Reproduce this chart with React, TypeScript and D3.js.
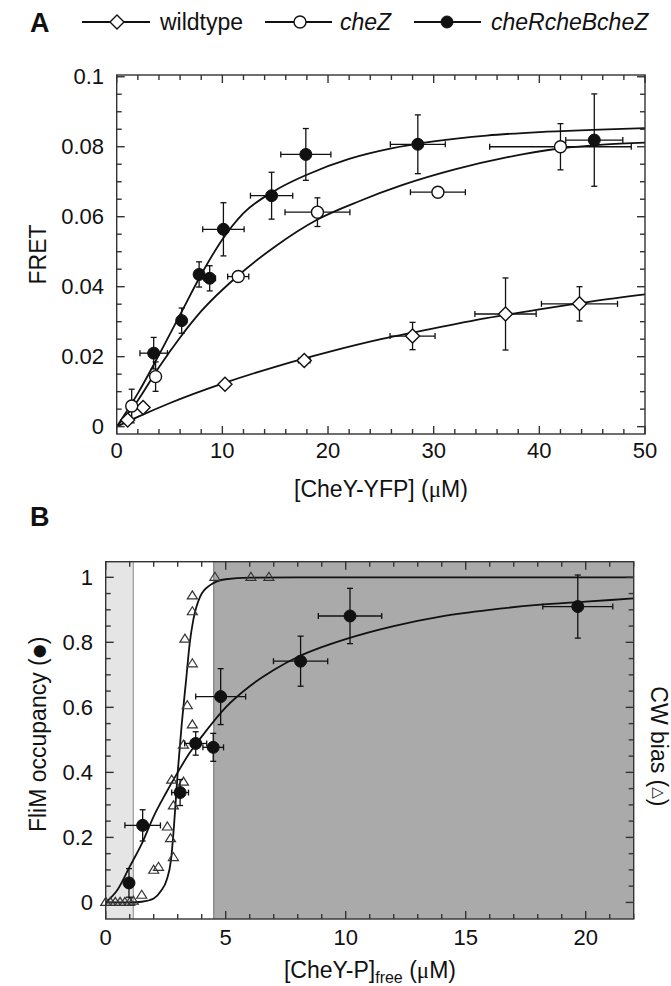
import React from 'react';
import * as d3 from 'd3';

// ---------- Panel A data ----------
const wtX = [1.04, 2.5, 10.25, 17.75, 28.0, 36.8, 43.8];
const wtY = [0.0019, 0.0055, 0.0121, 0.0189, 0.0259, 0.0322, 0.0351];
const wtXErr = [0, 0, 0.4, 0.55, 2.13, 2.9, 3.6];
const wtYErr = [0, 0, 0.0008, 0.001, 0.0039, 0.0103, 0.0049];

const czX = [1.42, 3.68, 11.5, 19.0, 30.4, 42.0];
const czY = [0.0059, 0.0143, 0.0429, 0.0613, 0.067, 0.080];
const czXErr = [0.2, 0.2, 1.0, 3.07, 2.6, 6.7];
const czYErr = [0.0048, 0.0042, 0.0012, 0.0041, 0.0008, 0.0066];

const rbzX = [3.5, 6.15, 7.8, 8.8, 10.1, 14.66, 17.9, 28.5, 45.2];
const rbzY = [0.021, 0.0303, 0.0435, 0.0424, 0.0564, 0.066, 0.0778, 0.0807, 0.0819];
const rbzXErr = [1.3, 0.3, 0.4, 0.55, 1.96, 2.0, 2.37, 2.6, 2.7];
const rbzYErr = [0.0045, 0.0036, 0.0036, 0.0036, 0.0076, 0.0067, 0.0074, 0.0084, 0.0132];

// fitted curves
const wtCurveX = [0, 2, 5, 10, 15, 20, 25, 30, 35, 40, 45, 50];
const wtCurveY = [0, 0.0028, 0.0067, 0.0123, 0.0171, 0.0213, 0.025, 0.0281, 0.031, 0.0335, 0.0358, 0.0378];
const czCurveX = [0, 2, 4, 6, 8, 11.5, 15, 19, 23, 27, 32, 37, 42, 46, 50];
const czCurveY = [0, 0.0075, 0.017, 0.0255, 0.033, 0.0432, 0.0515, 0.0592, 0.0645, 0.069, 0.0735, 0.077, 0.0795, 0.0806, 0.0812];
const rbzCurveX = [0, 2, 4, 6, 8, 10, 12, 15, 18, 22, 26, 30, 35, 40, 45, 50];
const rbzCurveY = [0, 0.0095, 0.0205, 0.032, 0.0435, 0.0535, 0.061, 0.0675, 0.072, 0.0765, 0.0795, 0.0815, 0.0832, 0.0842, 0.0848, 0.0853];

const aXTicks = [0, 10, 20, 30, 40, 50];
const aYTicks = [0, 0.02, 0.04, 0.06, 0.08, 0.1];
const aYTickLabels = ['0', '0.02', '0.04', '0.06', '0.08', '0.1'];

// ---------- Panel B data ----------
const cwX = [0, 0.2, 0.4, 0.6, 0.8, 1.0, 1.15, 1.5, 2.0, 2.2, 2.57, 2.7, 2.82, 2.82, 2.75, 3.24, 3.24, 3.61, 3.4, 3.61, 3.3, 3.61, 3.61, 4.55, 6.05, 6.8];
const cwY = [0, 0, 0, 0, 0, 0, 0.004, 0.022, 0.099, 0.108, 0.232, 0.196, 0.138, 0.297, 0.376, 0.37, 0.484, 0.546, 0.605, 0.734, 0.81, 0.894, 0.943, 1.0, 1.0, 1.0];

const flX = [0.97, 1.54, 3.1, 3.75, 4.48, 4.79, 8.12, 10.18, 19.67];
const flY = [0.06, 0.237, 0.338, 0.489, 0.477, 0.633, 0.742, 0.881, 0.91];
const flXErr = [0.1, 0.74, 0.35, 0.46, 0.43, 1.04, 1.13, 1.32, 1.46];
const flYErr = [0.044, 0.048, 0.04, 0.036, 0.043, 0.086, 0.077, 0.085, 0.097];

const cwCurveX = [0, 1, 1.5, 2.0, 2.3, 2.54, 2.72, 2.85, 3.0, 3.17, 3.35, 3.5, 3.65, 3.93, 4.35, 5.0, 6, 8, 22];
const cwCurveY = [0, 0.0, 0.002, 0.012, 0.035, 0.069, 0.13, 0.24, 0.4, 0.55, 0.684, 0.797, 0.869, 0.94, 0.976, 0.994, 0.999, 1, 1];
const flCurveX = [0, 0.5, 1, 1.5, 2, 2.5, 3, 3.5, 4, 5, 6, 7, 8, 9, 10, 12, 14, 16, 18, 20, 22];
const flCurveY = [0, 0.04, 0.11, 0.18, 0.265, 0.335, 0.4, 0.46, 0.51, 0.6, 0.665, 0.715, 0.755, 0.785, 0.81, 0.85, 0.88, 0.9, 0.915, 0.925, 0.935];

const bXTicks = [0, 5, 10, 15, 20];
const bYTicks = [0, 0.2, 0.4, 0.6, 0.8, 1];
const bYTickLabels = ['0', '0.2', '0.4', '0.6', '0.8', '1'];
const bandLight = [0, 1.15];
const bandDark = [4.5, 22];

const FONT = '"Liberation Sans", Arial, Helvetica, sans-serif';
const SYM = '"DejaVu Sans", sans-serif';
const INK = '#111';
const FRAME = '#333';

function zip(xs: number[], ys: number[]) {
  return xs.map((x, i) => [x, ys[i]] as [number, number]);
}

function ErrorBars({ xs, ys, xe, ye, sx, sy }: any) {
  const cap = 3;
  return (
    <g stroke={INK} strokeWidth={1.3} fill="none">
      {xs.map((x: number, i: number) => {
        const cx = sx(x), cy = sy(ys[i]);
        const parts: any[] = [];
        if (xe[i] > 0) {
          const x0 = sx(x - xe[i]), x1 = sx(x + xe[i]);
          parts.push(<line key="h" x1={x0} x2={x1} y1={cy} y2={cy} />);
          parts.push(<line key="hc0" x1={x0} x2={x0} y1={cy - cap} y2={cy + cap} />);
          parts.push(<line key="hc1" x1={x1} x2={x1} y1={cy - cap} y2={cy + cap} />);
        }
        if (ye[i] > 0) {
          const y0 = sy(ys[i] - ye[i]), y1 = sy(ys[i] + ye[i]);
          parts.push(<line key="v" x1={cx} x2={cx} y1={y0} y2={y1} />);
          parts.push(<line key="vc0" x1={cx - cap} x2={cx + cap} y1={y0} y2={y0} />);
          parts.push(<line key="vc1" x1={cx - cap} x2={cx + cap} y1={y1} y2={y1} />);
        }
        return <g key={i}>{parts}</g>;
      })}
    </g>
  );
}

function diamond(cx: number, cy: number, r: number) {
  return `M${cx},${cy - r}L${cx + r},${cy}L${cx},${cy + r}L${cx - r},${cy}Z`;
}
function triangle(cx: number, cy: number, w: number, h: number) {
  return `M${cx},${cy - h / 2}L${cx + w / 2},${cy + h / 2}L${cx - w / 2},${cy + h / 2}Z`;
}

function Frame({ sx, sy, xMinor, yMinor, xMajor, yMajor, right = true }: any) {
  const [x0, x1] = sx.range();
  const [y0, y1] = sy.range(); // y0 bottom, y1 top
  const maj = 8, min = 5;
  return (
    <g stroke={FRAME} strokeWidth={1.4} fill="none">
      <rect x={x0} y={y1} width={x1 - x0} height={y0 - y1} />
      {xMinor.map((v: number, i: number) => {
        const L = xMajor.includes(v) ? maj : min;
        const x = sx(v);
        return (
          <g key={'x' + i}>
            <line x1={x} x2={x} y1={y0} y2={y0 - L} />
            <line x1={x} x2={x} y1={y1} y2={y1 + L} />
          </g>
        );
      })}
      {yMinor.map((v: number, i: number) => {
        const L = yMajor.some((m: number) => Math.abs(m - v) < 1e-9) ? maj : min;
        const y = sy(v);
        return (
          <g key={'y' + i}>
            <line x1={x0} x2={x0 + L} y1={y} y2={y} />
            {right && <line x1={x1} x2={x1 - L} y1={y} y2={y} />}
          </g>
        );
      })}
    </g>
  );
}

export default function App() {
  // ----- Panel A scales -----
  const xA = d3.scaleLinear().domain([0, 50]).range([116.7, 645]);
  const yA = d3.scaleLinear().domain([-0.0021, 0.1005]).range([434, 75]);
  const lineA = d3.line<[number, number]>().x(d => xA(d[0])).y(d => yA(d[1])).curve(d3.curveMonotoneX);

  // ----- Panel B scales -----
  const xB = d3.scaleLinear().domain([0, 22]).range([105.7, 633.7]);
  const yB = d3.scaleLinear().domain([-0.051, 1.048]).range([919, 561.7]);
  const lineB = d3.line<[number, number]>().x(d => xB(d[0])).y(d => yB(d[1])).curve(d3.curveMonotoneX);

  const aXMinor = d3.range(0, 50.001, 2);
  const aYMinor = d3.range(0, 0.1001, 0.005).map(v => +v.toFixed(4));
  const bXMinor = d3.range(0, 22.001, 1);
  const bYMinor = d3.range(0, 1.0001, 0.05).map(v => +v.toFixed(3));

  const tickFont = 22;
  const titleFont = 23;
  const legY = 22;

  return (
    <svg width={671} height={986} style={{ position: 'absolute', left: 0, top: 0, background: '#fff' }} fontFamily={FONT}>
      <rect x={0} y={0} width={671} height={986} fill="#fff" />
      {/* ===== Panel A ===== */}
      <text x={30} y={23} dominantBaseline="central" fontSize={27} fontWeight="bold" fill={INK}>A</text>
      {/* legend */}
      <g stroke={INK} strokeWidth={1.8}>
        <line x1={82} x2={150} y1={legY} y2={legY} />
        <line x1={265} x2={332} y1={legY} y2={legY} />
        <line x1={414} x2={481} y1={legY} y2={legY} />
      </g>
      <path d={diamond(117, legY, 7)} fill="#fff" stroke={INK} strokeWidth={1.4} />
      <circle cx={300} cy={legY} r={6} fill="#fff" stroke={INK} strokeWidth={1.4} />
      <circle cx={447} cy={legY} r={6} fill={INK} stroke={INK} strokeWidth={1} />
      <text x={160} y={legY} dominantBaseline="central" fontSize={23} fill={INK}>wildtype</text>
      <text x={340} y={legY} dominantBaseline="central" fontSize={23} fontStyle="italic" fill={INK}>cheZ</text>
      <text x={491} y={legY} dominantBaseline="central" fontSize={23} fontStyle="italic" fill={INK}>cheRcheBcheZ</text>

      {/* curves */}
      <g fill="none" stroke={INK} strokeWidth={1.8}>
        <path d={lineA(zip(wtCurveX, wtCurveY)) || ''} />
        <path d={lineA(zip(czCurveX, czCurveY)) || ''} />
        <path d={lineA(zip(rbzCurveX, rbzCurveY)) || ''} />
      </g>
      <ErrorBars xs={wtX} ys={wtY} xe={wtXErr} ye={wtYErr} sx={xA} sy={yA} />
      <ErrorBars xs={czX} ys={czY} xe={czXErr} ye={czYErr} sx={xA} sy={yA} />
      <ErrorBars xs={rbzX} ys={rbzY} xe={rbzXErr} ye={rbzYErr} sx={xA} sy={yA} />
      {wtX.map((x, i) => (
        <path key={'wt' + i} d={diamond(xA(x), yA(wtY[i]), 7)} fill="#fff" stroke={INK} strokeWidth={1.4} />
      ))}
      {czX.map((x, i) => (
        <circle key={'cz' + i} cx={xA(x)} cy={yA(czY[i])} r={6} fill="#fff" stroke={INK} strokeWidth={1.4} />
      ))}
      {rbzX.map((x, i) => (
        <circle key={'rb' + i} cx={xA(x)} cy={yA(rbzY[i])} r={6} fill={INK} stroke={INK} strokeWidth={1} />
      ))}
      <Frame sx={xA} sy={yA} xMinor={aXMinor} yMinor={aYMinor} xMajor={aXTicks} yMajor={aYTicks} />
      {aXTicks.map(v => (
        <text key={'ax' + v} x={xA(v)} y={458} textAnchor="middle" fontSize={tickFont} fill={INK}>{v}</text>
      ))}
      {aYTicks.map((v, i) => (
        <text key={'ay' + v} x={104} y={yA(v)} textAnchor="end" dominantBaseline="central" fontSize={tickFont} fill={INK}>{aYTickLabels[i]}</text>
      ))}
      <text x={381} y={497} textAnchor="middle" fontSize={titleFont} fill={INK}>
        [CheY-YFP] (<tspan fontFamily='"Liberation Serif", serif'>μ</tspan>M)
      </text>
      <text transform={`translate(38,${(yA.range()[0] + yA.range()[1]) / 2}) rotate(-90)`} textAnchor="middle" dominantBaseline="central" fontSize={titleFont} fill={INK}>FRET</text>

      {/* ===== Panel B ===== */}
      <text x={30} y={517} dominantBaseline="central" fontSize={27} fontWeight="bold" fill={INK}>B</text>
      <rect x={xB(bandLight[0])} y={yB.range()[1]} width={xB(bandLight[1]) - xB(bandLight[0])} height={yB.range()[0] - yB.range()[1]} fill="#e5e5e5" />
      <rect x={xB(bandDark[0])} y={yB.range()[1]} width={xB(bandDark[1]) - xB(bandDark[0])} height={yB.range()[0] - yB.range()[1]} fill="#aaaaaa" />
      <line x1={xB(bandLight[1])} x2={xB(bandLight[1])} y1={yB.range()[1]} y2={yB.range()[0]} stroke="#999" strokeWidth={1.2} />
      <line x1={xB(bandDark[0])} x2={xB(bandDark[0])} y1={yB.range()[1]} y2={yB.range()[0]} stroke="#808080" strokeWidth={1.2} />
      <g fill="none" stroke={INK} strokeWidth={1.8}>
        <path d={lineB(zip(cwCurveX, cwCurveY)) || ''} />
        <path d={lineB(zip(flCurveX, flCurveY)) || ''} />
      </g>
      {cwX.map((x, i) => (
        <path key={'cw' + i} d={triangle(xB(x), yB(cwY[i]) - 1, 10, 8)} fill="none" stroke="#333" strokeWidth={1.2} />
      ))}
      <ErrorBars xs={flX} ys={flY} xe={flXErr} ye={flYErr} sx={xB} sy={yB} />
      {flX.map((x, i) => (
        <circle key={'fl' + i} cx={xB(x)} cy={yB(flY[i])} r={6} fill={INK} stroke={INK} strokeWidth={1} />
      ))}
      <Frame sx={xB} sy={yB} xMinor={bXMinor} yMinor={bYMinor} xMajor={bXTicks} yMajor={bYTicks} />
      {bXTicks.map(v => (
        <text key={'bx' + v} x={xB(v)} y={945} textAnchor="middle" fontSize={tickFont} fill={INK}>{v}</text>
      ))}
      {bYTicks.map((v, i) => (
        <text key={'by' + v} x={93} y={yB(v)} textAnchor="end" dominantBaseline="central" fontSize={tickFont} fill={INK}>{bYTickLabels[i]}</text>
      ))}
      <text x={370} y={978} textAnchor="middle" fontSize={titleFont} fill={INK}>
        [CheY-P]<tspan fontSize={16} dy={5}>free</tspan><tspan dy={-5}> (</tspan><tspan fontFamily='"Liberation Serif", serif'>μ</tspan>M)
      </text>
      <text transform={`translate(38,${(yB.range()[0] + yB.range()[1]) / 2 - 6}) rotate(-90)`} textAnchor="middle" dominantBaseline="central" fontSize={titleFont} fill={INK}>
        FliM occupancy (<tspan fontFamily={SYM} fontSize={16}>●</tspan>)
      </text>
      <text transform={`translate(659,${(yB.range()[0] + yB.range()[1]) / 2 + 6}) rotate(90)`} textAnchor="middle" dominantBaseline="central" fontSize={titleFont} fill={INK}>
        CW bias (<tspan fontFamily={SYM} fontSize={15}>△</tspan>)
      </text>
    </svg>
  );
}
